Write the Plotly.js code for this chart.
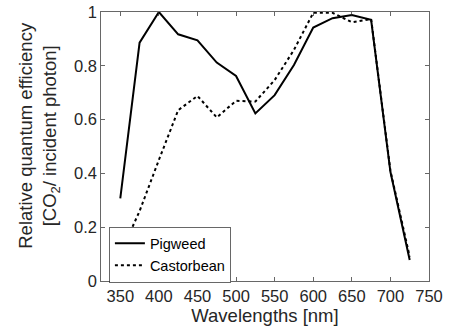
<!DOCTYPE html>
<html>
<head>
<meta charset="utf-8">
<script src="https://cdn.plot.ly/plotly-3.0.1.min.js"></script>
<style>html,body{margin:0;padding:0;background:#fff;}#chart{width:449px;height:333px;}</style>
</head>
<body>
<div id="chart"></div>
<script>
const wavelengths = [350, 375, 400, 425, 450, 475, 500, 525, 550, 575, 600, 625, 650, 675, 700, 725];
const pigweed     = [0.307, 0.886, 1.0, 0.917, 0.895, 0.812, 0.762, 0.623, 0.691, 0.803, 0.942, 0.977, 0.989, 0.971, 0.406, 0.078];
const castorbean  = [0.10, 0.26, 0.45, 0.635, 0.688, 0.608, 0.670, 0.667, 0.747, 0.859, 0.997, 0.997, 0.962, 0.974, 0.41, 0.09];
const seriesNames = ["Pigweed", "Castorbean"];
const xTicks = [350, 400, 450, 500, 550, 600, 650, 700, 750];
const yTicks = [0, 0.2, 0.4, 0.6, 0.8, 1];
const xTitle = "Wavelengths [nm]";
const yTitle = "Relative quantum efficiency<br>[CO<sub>2</sub>/ incident photon]";

const font = "Liberation Sans, Arial, Helvetica, sans-serif";
const txt = "#262626";
const axCol = "#262626";

const traces = [
  {x: wavelengths, y: pigweed, name: seriesNames[0], mode: "lines",
   line: {color: "#000", width: 2, dash: "solid"}},
  {x: wavelengths, y: castorbean, name: seriesNames[1], mode: "lines",
   line: {color: "#000", width: 2, dash: "dot"}}
];

const layout = {
  width: 449, height: 333,
  margin: {l: 101, r: 20, t: 12, b: 52},
  paper_bgcolor: "#fff", plot_bgcolor: "#fff",
  font: {family: font, color: txt, size: 17},
  showlegend: true,
  legend: {x: 0.025, y: 0.202, xanchor: "left", yanchor: "top",
    bgcolor: "#fff", bordercolor: axCol, borderwidth: 0.7,
    font: {family: font, size: 14.5, color: "#000"}, tracegroupgap: 0,
    itemwidth: 30},
  xaxis: {range: [325, 750], tickvals: xTicks, ticktext: xTicks.map(String),
    showgrid: false, zeroline: false, showline: true, linecolor: axCol, linewidth: 0.7,
    mirror: "ticks", ticks: "inside", ticklen: 4, tickwidth: 0.7, tickcolor: axCol,
    tickfont: {family: font, size: 16.5, color: txt},
    title: {text: xTitle, font: {family: font, size: 18.5, color: txt}, standoff: 5}},
  yaxis: {range: [0, 1], tickvals: yTicks, ticktext: yTicks.map(String),
    showgrid: false, zeroline: false, showline: true, linecolor: axCol, linewidth: 0.7,
    mirror: "ticks", ticks: "inside", ticklen: 4, tickwidth: 0.7, tickcolor: axCol,
    tickfont: {family: font, size: 16.5, color: txt}},
  annotations: [
    {text: yTitle, xref: "paper", yref: "paper", x: 0, y: 0.54,
     xanchor: "center", yanchor: "middle", xshift: -62, textangle: -90,
     showarrow: false, align: "center",
     font: {family: font, size: 18.5, color: txt}}
  ]
};

Plotly.newPlot("chart", traces, layout, {displayModeBar: false, staticPlot: true});
</script>
</body>
</html>
